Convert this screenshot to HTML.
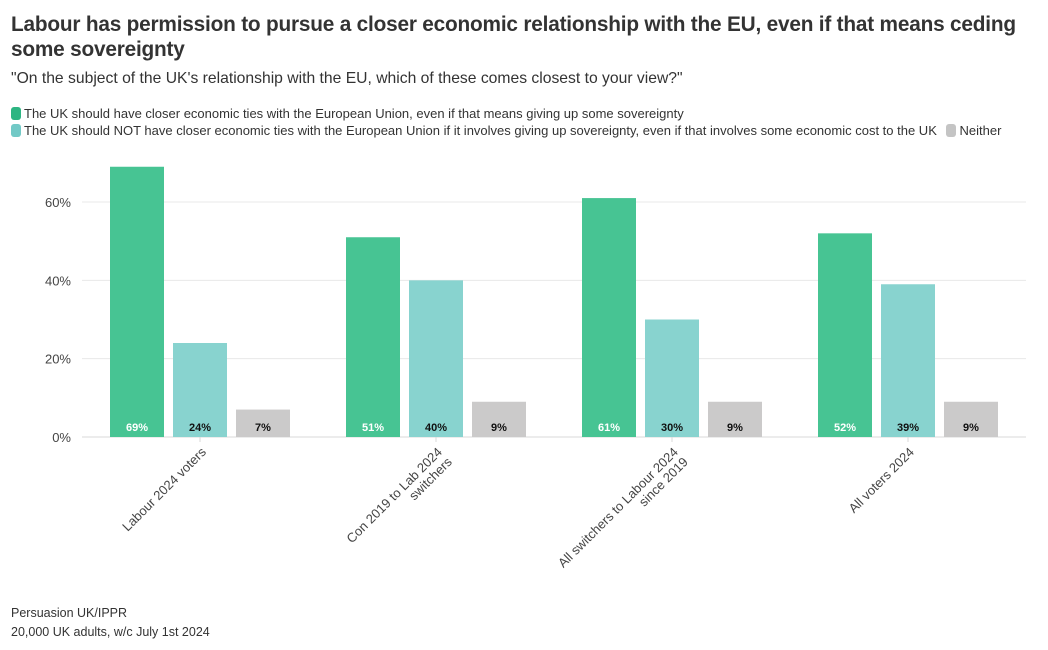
<!DOCTYPE html>
<html><head><meta charset="utf-8"><style>
body{margin:0;background:#fff;font-family:"Liberation Sans",sans-serif;color:#333;width:1048px;height:650px;overflow:hidden;position:relative}
.t{position:absolute;left:11px;top:12px;font-size:20.8px;font-weight:bold;line-height:25px;color:#333;width:1030px;letter-spacing:-0.2px}
.s{position:absolute;left:11px;top:70px;font-size:15.7px;color:#333}
.lg{position:absolute;left:11px;font-size:13px;color:#333;white-space:nowrap}
.sw{display:inline-block;width:10px;height:13px;border-radius:3px;vertical-align:-2px;margin-right:3px}
.src{position:absolute;left:11px;font-size:12.5px;color:#333}
</style></head><body>
<div class="t">Labour has permission to pursue a closer economic relationship with the EU, even if that means ceding some sovereignty</div>
<div class="s">"On the subject of the UK's relationship with the EU, which of these comes closest to your view?"</div>
<div class="lg" style="top:106px"><span class="sw" style="background:#2db582"></span>The UK should have closer economic ties with the European Union, even if that means giving up some sovereignty</div>
<div class="lg" style="top:123px"><span class="sw" style="background:#72c9c6"></span>The UK should NOT have closer economic ties with the European Union if it involves giving up sovereignty, even if that involves some economic cost to the UK <span style="margin-left:6px"><span class="sw" style="background:#c4c4c4"></span>Neither</span></div>
<svg id="chart" width="1048" height="650" style="position:absolute;left:0;top:0"></svg>
<div class="src" style="top:606px">Persuasion UK/IPPR</div>
<div class="src" style="top:625px">20,000 UK adults, w/c July 1st 2024</div>
<script>
const categories=[["Labour 2024 voters"],["Con 2019 to Lab 2024","switchers"],["All switchers to Labour 2024","since 2019"],["All voters 2024"]];
const closer=[69,51,61,52];
const notCloser=[24,40,30,39];
const neither=[7,9,9,9];
const ticks=[0,20,40,60];
const NS="http://www.w3.org/2000/svg";
const svg=document.getElementById('chart');
const x0=82,x1=1026,yBase=437,yPer=235/60;
const y=v=>yBase-v*yPer;
const bw=54,gap=9,groupW=(x1-x0)/categories.length;
const gx=i=>x0+groupW*(i+0.5);
function mk(t,a){const e=document.createElementNS(NS,t);for(const k in a)e.setAttribute(k,a[k]);svg.appendChild(e);return e;}
ticks.forEach(t=>{
 const l=mk('line',{x1:x0,x2:x1,y1:y(t),y2:y(t),stroke:t===0?'#d8d8d8':'#e8e8e8','stroke-width':1});
 
 
 const tx=mk('text',{x:71,y:y(t)+5,'text-anchor':'end','font-size':13,fill:'#444','font-family':'Liberation Sans, sans-serif'});
 tx.textContent=t+'%';
 
 
});
const series=[[closer,'#47c493','#fff'],[notCloser,'#88d3cf','#111'],[neither,'#cbcaca','#111']];
categories.forEach((c,i)=>{
 series.forEach((s,j)=>{
  const v=s[0][i];const bx=gx(i)+(j-1)*(bw+gap)-bw/2;
  const r=mk('rect',{x:bx,y:y(v),width:bw,height:yBase-y(v),fill:s[1]});
  
  
  const t=mk('text',{x:bx+bw/2,y:yBase-6,'text-anchor':'middle','font-size':11,'font-weight':'bold',fill:s[2],'font-family':'Liberation Sans, sans-serif'});
  t.textContent=v+'%';
  
  
 });
 const tk=mk('line',{x1:gx(i),x2:gx(i),y1:yBase,y2:yBase+5,stroke:'#d8d8d8'});
 
 
 const g=document.createElementNS(NS,'text');
 g.setAttribute('transform','translate('+(gx(i)+4)+','+(yBase+13)+') rotate(-45)');
 g.setAttribute('text-anchor','end');g.setAttribute('font-size','13');g.setAttribute('fill','#444');
 g.setAttribute('font-family','Liberation Sans, sans-serif');
 
 
 c.forEach((line,k)=>{const ts=document.createElementNS(NS,'tspan');ts.setAttribute('x',0);ts.setAttribute('y',k*14+4);ts.textContent=line;g.appendChild(ts);});
 svg.appendChild(g);
});
</script>
</body></html>
